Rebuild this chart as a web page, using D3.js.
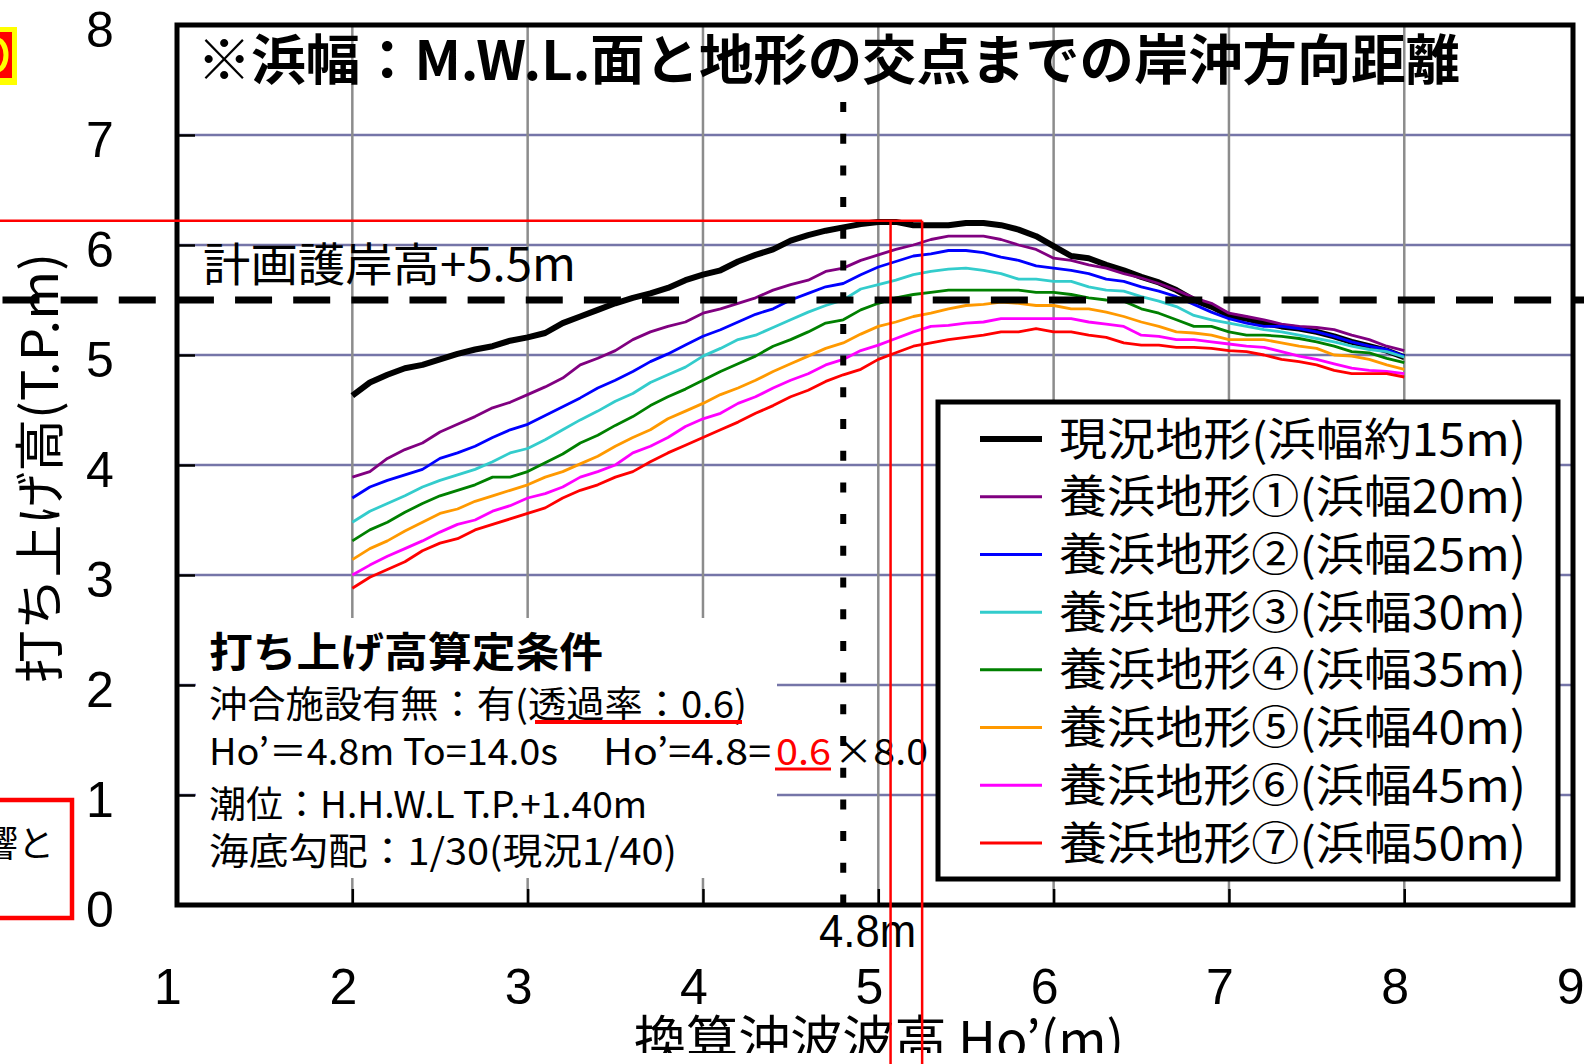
<!DOCTYPE html>
<html><head><meta charset="utf-8">
<script src="https://cdn.jsdelivr.net/npm/d3@7"></script>
<style>html,body{margin:0;padding:0;background:#fff;} svg{display:block;}</style>
</head><body>
<svg id="c" width="1584" height="1064"></svg>
<script>
// ---------- DATA ----------
const xValues = [2.0,2.1,2.2,2.3,2.4,2.5,2.6,2.7,2.8,2.9,
  3.0,3.1,3.2,3.3,3.4,3.5,3.6,3.7,3.8,3.9,
  4.0,4.1,4.2,4.3,4.4,4.5,4.6,4.7,4.8,4.9,
  5.0,5.1,5.2,5.3,5.4,5.5,5.6,5.7,5.8,5.9,
  6.0,6.1,6.2,6.3,6.4,6.5,6.6,6.7,6.8,6.9,
  7.0,7.1,7.2,7.3,7.4,7.5,7.6,7.7,7.8,7.9,
  8.0];
const seriesNames = ["現況地形(浜幅約15m)","養浜地形①(浜幅20m)","養浜地形②(浜幅25m)","養浜地形③(浜幅30m)",
  "養浜地形④(浜幅35m)","養浜地形⑤(浜幅40m)","養浜地形⑥(浜幅45m)","養浜地形⑦(浜幅50m)"];
const seriesColors = ["#000000","#800080","#0000ff","#33cccc","#008000","#ff9900","#ff00ff","#ff0000"];
const current15 = [4.63,4.75,4.82,4.88,4.91,4.96,5.01,5.05,5.08,5.13,
  5.16,5.20,5.29,5.35,5.41,5.47,5.52,5.56,5.61,5.68,
  5.73,5.77,5.85,5.91,5.96,6.04,6.09,6.13,6.16,6.19,
  6.21,6.21,6.18,6.18,6.18,6.20,6.20,6.18,6.14,6.08,
  5.99,5.90,5.88,5.82,5.77,5.71,5.66,5.59,5.50,5.44,
  5.36,5.33,5.29,5.26,5.24,5.21,5.17,5.12,5.08,5.04,
  4.98];
const nourish20 = [3.89,3.94,4.06,4.14,4.20,4.30,4.37,4.44,4.52,4.57,
  4.64,4.71,4.79,4.91,4.97,5.04,5.14,5.21,5.26,5.30,
  5.38,5.42,5.47,5.52,5.59,5.64,5.68,5.76,5.79,5.86,
  5.91,5.96,6.00,6.05,6.08,6.08,6.08,6.05,6.00,5.96,
  5.88,5.86,5.82,5.79,5.74,5.70,5.65,5.59,5.52,5.47,
  5.38,5.35,5.32,5.28,5.26,5.25,5.23,5.18,5.14,5.08,
  5.04];
const nourish25 = [3.70,3.80,3.86,3.91,3.96,4.06,4.11,4.17,4.25,4.32,
  4.37,4.45,4.53,4.61,4.70,4.77,4.85,4.94,5.01,5.09,
  5.17,5.23,5.30,5.37,5.42,5.50,5.56,5.62,5.65,5.73,
  5.80,5.85,5.90,5.92,5.95,5.95,5.93,5.89,5.86,5.81,
  5.79,5.77,5.74,5.69,5.67,5.62,5.58,5.53,5.46,5.39,
  5.33,5.29,5.26,5.26,5.24,5.21,5.17,5.12,5.08,5.05,
  4.99];
const nourish30 = [3.48,3.58,3.65,3.72,3.80,3.86,3.91,3.96,4.03,4.11,
  4.15,4.23,4.32,4.41,4.49,4.58,4.65,4.75,4.82,4.89,
  4.99,5.06,5.14,5.18,5.25,5.32,5.39,5.45,5.50,5.60,
  5.64,5.68,5.73,5.76,5.78,5.79,5.77,5.74,5.69,5.69,
  5.67,5.67,5.62,5.59,5.58,5.53,5.49,5.44,5.36,5.32,
  5.29,5.26,5.23,5.21,5.18,5.15,5.12,5.08,5.05,5.03,
  4.98];
const nourish35 = [3.31,3.41,3.48,3.57,3.65,3.72,3.77,3.82,3.89,3.89,
  3.94,4.02,4.10,4.20,4.27,4.36,4.44,4.54,4.62,4.69,
  4.77,4.85,4.92,4.99,5.08,5.14,5.21,5.29,5.32,5.41,
  5.47,5.52,5.55,5.57,5.59,5.59,5.59,5.59,5.59,5.57,
  5.57,5.55,5.52,5.50,5.49,5.42,5.38,5.32,5.26,5.26,
  5.21,5.18,5.18,5.17,5.15,5.12,5.08,5.03,5.02,4.97,
  4.93];
const nourish40 = [3.14,3.24,3.31,3.40,3.48,3.56,3.60,3.67,3.72,3.77,
  3.82,3.89,3.94,4.01,4.08,4.17,4.25,4.32,4.42,4.49,
  4.56,4.64,4.70,4.77,4.85,4.92,4.99,5.06,5.11,5.19,
  5.26,5.30,5.35,5.38,5.42,5.45,5.46,5.48,5.47,5.45,
  5.45,5.42,5.42,5.39,5.35,5.30,5.26,5.21,5.20,5.18,
  5.14,5.14,5.14,5.11,5.08,5.06,5.00,4.99,4.96,4.91,
  4.87];
const nourish45 = [3.00,3.09,3.17,3.24,3.31,3.39,3.46,3.50,3.58,3.63,
  3.70,3.74,3.80,3.89,3.94,4.00,4.11,4.17,4.25,4.35,
  4.42,4.47,4.56,4.62,4.70,4.77,4.83,4.91,4.96,5.04,
  5.09,5.15,5.21,5.26,5.27,5.29,5.30,5.33,5.33,5.33,
  5.33,5.33,5.30,5.28,5.26,5.18,5.17,5.14,5.14,5.12,
  5.10,5.08,5.07,5.03,4.99,4.96,4.92,4.88,4.86,4.85,
  4.83];
const nourish50 = [2.88,2.98,3.05,3.12,3.22,3.29,3.33,3.41,3.46,3.51,
  3.56,3.61,3.70,3.77,3.82,3.89,3.94,4.03,4.11,4.18,
  4.25,4.32,4.39,4.47,4.54,4.62,4.68,4.76,4.82,4.87,
  4.96,5.02,5.08,5.11,5.14,5.16,5.18,5.21,5.21,5.24,
  5.21,5.21,5.18,5.16,5.11,5.09,5.09,5.07,5.07,5.06,
  5.04,5.03,5.00,4.96,4.94,4.91,4.86,4.83,4.83,4.83,
  4.80];
const allSeries = [current15,nourish20,nourish25,nourish30,nourish35,nourish40,nourish45,nourish50];
const xTickLabels = [1,2,3,4,5,6,7,8,9];
const yTickLabels = [0,1,2,3,4,5,6,7,8];
const xGridValues = [2,3,4,5,6,7,8];
const yGridValues = [1,2,3,4,5,6,7];
const seawallHeight = 5.5;      // 計画護岸高
const designHo = 4.8;           // Ho'=4.8m
const peakRunup = 6.22;         // red guide level
const redGuideX = [5.07, 5.25]; // red guide verticals

// ---------- DRAW ----------
const svg = d3.select("#c");
const W = 1584, H = 1064;
const JP = "'Noto Sans CJK JP','Noto Sans CJK SC',sans-serif";
const LAT = "'Liberation Sans',Arial,sans-serif";
const x = d3.scaleLinear().domain([1, 9]).range([177, 1579.6]);
const y = d3.scaleLinear().domain([0, 8]).range([905, 25]);
const frameL = 177, frameR = 1573;

svg.append("rect").attr("width", W).attr("height", H).attr("fill", "#fff");

// gridlines
svg.append("g").selectAll("line").data(yGridValues).join("line")
  .attr("x1", frameL).attr("x2", frameR).attr("y1", d => y(d)).attr("y2", d => y(d))
  .attr("stroke", "#7575a8").attr("stroke-width", 2.5);
svg.append("g").selectAll("line").data(xGridValues).join("line")
  .attr("x1", d => x(d)).attr("x2", d => x(d)).attr("y1", y(8)).attr("y2", y(0))
  .attr("stroke", "#8c8c8c").attr("stroke-width", 2.5);

function txt(s, tx, ty, o) {
  o = o || {};
  const t = svg.append("text").attr("x", tx).attr("y", ty).text(s)
    .attr("font-family", o.family || JP).attr("font-size", o.size || 38)
    .attr("fill", o.fill || "#000");
  if (o.weight) t.attr("font-weight", o.weight);
  if (o.anchor) t.attr("text-anchor", o.anchor);
  if (o.len) t.attr("textLength", o.len).attr("lengthAdjust", o.adjust || "spacingAndGlyphs");
  if (o.transform) t.attr("transform", o.transform);
  return t;
}

// top title and seawall label (over grid)
txt("※浜幅：M.W.L.面と地形の交点までの岸沖方向距離", 197, 80, {size: 54, weight: 700, len: 1263});
txt("計画護岸高+5.5m", 203, 281, {size: 46, len: 373});

// series
const line = d3.line().x((d, i) => x(xValues[i])).y(d => y(d));
allSeries.forEach((s, k) => {
  svg.append("path").datum(s).attr("d", line).attr("fill", "none")
    .attr("stroke", seriesColors[k]).attr("stroke-width", k === 0 ? 6 : 2.8)
    .attr("stroke-linejoin", "round");
});

// dashed seawall line
svg.append("line").attr("x1", 2.5).attr("x2", W).attr("y1", y(seawallHeight)).attr("y2", y(seawallHeight))
  .attr("stroke", "#000").attr("stroke-width", 7).attr("stroke-dasharray", "37 21.14");

// annotation white box
svg.append("rect").attr("x", 196).attr("y", 618).attr("width", 581).attr("height", 260).attr("fill", "#fff");

// legend box
svg.append("rect").attr("x", 938).attr("y", 402).attr("width", 620).attr("height", 477)
  .attr("fill", "#fff").attr("stroke", "#000").attr("stroke-width", 5);

// frame
svg.append("rect").attr("x", frameL).attr("y", y(8)).attr("width", frameR - frameL).attr("height", y(0) - y(8))
  .attr("fill", "none").attr("stroke", "#000").attr("stroke-width", 5);

// inner ticks via axes
const yTickAxis = d3.axisLeft(y).tickValues(yGridValues).tickSize(-18).tickFormat("");
const gy = svg.append("g").attr("transform", `translate(${frameL},0)`).call(yTickAxis);
gy.select(".domain").remove();
gy.selectAll("line").attr("stroke", "#000").attr("stroke-width", 2.5);
const xTickAxis = d3.axisBottom(x).tickValues(xGridValues).tickSize(-16).tickFormat("");
const gx = svg.append("g").attr("transform", `translate(0,${y(0)})`).call(xTickAxis);
gx.select(".domain").remove();
gx.selectAll("line").attr("stroke", "#000").attr("stroke-width", 2.5);

// dotted vertical at Ho'=4.8
svg.append("line").attr("x1", x(designHo)).attr("x2", x(designHo)).attr("y1", y(7.3)).attr("y2", y(0))
  .attr("stroke", "#000").attr("stroke-width", 6).attr("stroke-dasharray", "10 21.7");

// tick labels
svg.append("g").selectAll("text").data(yTickLabels).join("text")
  .attr("x", 100).attr("y", d => y(d) + 22).attr("text-anchor", "middle")
  .attr("font-family", LAT).attr("font-size", 50).text(d => d);
svg.append("g").selectAll("text").data(xTickLabels).join("text")
  .attr("x", d => x(d) - 9).attr("y", 1004).attr("text-anchor", "middle")
  .attr("font-family", LAT).attr("font-size", 50).text(d => d);

// axis titles
txt("打ち上げ高(T.P.m)", 0, 0, {size: 50, anchor: "middle", len: 430, transform: "translate(58,468) rotate(-90)"});
txt("換算沖波波高 Ho’(m)", 879, 1059, {size: 52, anchor: "middle", len: 490});
txt("4.8m", 819, 947, {family: LAT, size: 47, len: 97});

// annotation texts
txt("打ち上げ高算定条件", 209, 667, {size: 41, weight: 700, len: 394});
txt("沖合施設有無：有(透過率：0.6)", 209, 718, {size: 37, len: 538});
txt("Ho’＝4.8m To=14.0s", 209, 765, {size: 37, len: 349});
txt("Ho’=4.8=", 603, 765, {size: 37, len: 168});
txt("0.6", 776, 765, {size: 37, len: 55, fill: "#ff0000"});
txt("×8.0", 834, 765, {size: 37, len: 94});
txt("潮位：H.H.W.L T.P.+1.40m", 209, 818, {size: 37, len: 438});
txt("海底勾配：1/30(現況1/40)", 209, 865, {size: 37, len: 468});
svg.append("line").attr("x1", 535).attr("x2", 742).attr("y1", 722).attr("y2", 722).attr("stroke", "#ff0000").attr("stroke-width", 4);
svg.append("line").attr("x1", 775).attr("x2", 831).attr("y1", 769).attr("y2", 769).attr("stroke", "#ff0000").attr("stroke-width", 3);

// legend entries
const legY = d3.scaleLinear().domain([0, 7]).range([439, 843]);
seriesNames.forEach((n, k) => {
  svg.append("line").attr("x1", 980).attr("x2", 1042).attr("y1", legY(k)).attr("y2", legY(k))
    .attr("stroke", seriesColors[k]).attr("stroke-width", k === 0 ? 6 : 3);
  txt(n, 1059, legY(k) + 16.5, {size: 45, len: 467});
});

// bottom white strip (clipped axis title)
svg.append("rect").attr("x", 0).attr("y", 1053).attr("width", W).attr("height", 11).attr("fill", "#fff");

// red guide lines
svg.append("line").attr("x1", 0).attr("x2", x(redGuideX[1])).attr("y1", y(peakRunup)).attr("y2", y(peakRunup))
  .attr("stroke", "#ff0000").attr("stroke-width", 2.5);
redGuideX.forEach(v => {
  svg.append("line").attr("x1", x(v)).attr("x2", x(v)).attr("y1", y(peakRunup)).attr("y2", H)
    .attr("stroke", "#ff0000").attr("stroke-width", 2.5);
});

// left-edge fragments
svg.append("rect").attr("x", 0).attr("y", 27).attr("width", 17).attr("height", 58).attr("fill", "#ffff00");
svg.append("rect").attr("x", 0).attr("y", 32).attr("width", 12).attr("height", 46).attr("fill", "#ff0000");
svg.append("defs").append("clipPath").attr("id", "clipY").append("rect").attr("x", 0).attr("y", 32).attr("width", 12).attr("height", 46);
svg.append("ellipse").attr("cx", -3).attr("cy", 55).attr("rx", 9).attr("ry", 15)
  .attr("fill", "none").attr("stroke", "#ffff00").attr("stroke-width", 5).attr("clip-path", "url(#clipY)");
svg.append("rect").attr("x", -5).attr("y", 800).attr("width", 77).attr("height", 118)
  .attr("fill", "#fff").attr("stroke", "#ff0000").attr("stroke-width", 4.5);
txt("響と", 54, 857, {size: 36, anchor: "end"});
</script>
</body></html>
